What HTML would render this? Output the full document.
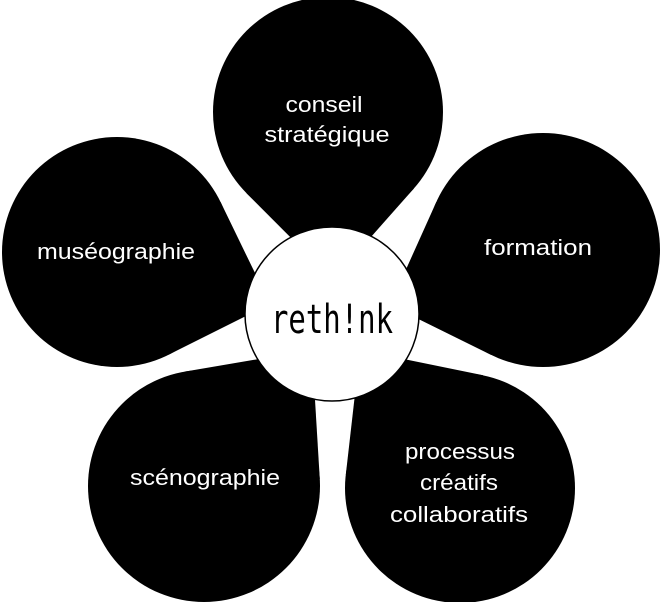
<!DOCTYPE html>
<html><head><meta charset="utf-8"><style>
html,body{margin:0;padding:0;background:#fff;}
svg{display:block}
text{font-family:"Liberation Sans",sans-serif;fill:#fff;font-size:22px;text-anchor:middle;}
</style></head><body>
<svg width="660" height="602" viewBox="0 0 660 602">
<g fill="#000">
<circle cx="328" cy="112" r="115"/>
<polygon points="333,280 246.5,193.2 328,112 414.1,188.2"/>
<circle cx="117" cy="252" r="115"/>
<polygon points="270,304 220.5,201.9 117,252 168.5,354.8"/>
<circle cx="543" cy="250" r="117"/>
<polygon points="390,305 436.3,202 543,250 491.3,355"/>
<circle cx="204" cy="486" r="116"/>
<polygon points="312,350 184.7,371.6 204,486 319.8,479.1"/>
<circle cx="460" cy="488" r="115"/>
<polygon points="360,350 345.8,474.8 460,488 483.1,375.3"/>
</g>
<circle cx="332" cy="314" r="87" fill="#fff" stroke="#000" stroke-width="1.5"/>
<g lengthAdjust="spacingAndGlyphs">
<text x="324" y="112" textLength="77" lengthAdjust="spacingAndGlyphs">conseil</text>
<text x="327" y="142" textLength="125" lengthAdjust="spacingAndGlyphs">stratégique</text>
<text x="116" y="259" textLength="158" lengthAdjust="spacingAndGlyphs">muséographie</text>
<text x="538" y="255" textLength="108" lengthAdjust="spacingAndGlyphs">formation</text>
<text x="205" y="485" textLength="150" lengthAdjust="spacingAndGlyphs">scénographie</text>
<text x="460" y="459" textLength="110" lengthAdjust="spacingAndGlyphs">processus</text>
<text x="459" y="490" textLength="78" lengthAdjust="spacingAndGlyphs">créatifs</text>
<text x="459" y="522" textLength="138" lengthAdjust="spacingAndGlyphs">collaboratifs</text>
</g>
<text x="332" y="333" style="fill:#000;font-size:40px;font-family:'DejaVu Sans Mono','Liberation Mono',monospace;" textLength="122" lengthAdjust="spacingAndGlyphs">reth!nk</text>
</svg>
</body></html>
